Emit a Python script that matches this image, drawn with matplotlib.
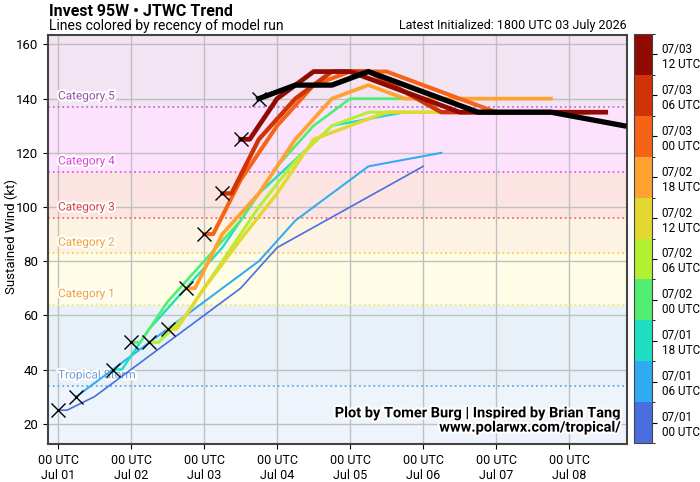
import numpy as np
import matplotlib
matplotlib.use("Agg")
import matplotlib.pyplot as plt
import matplotlib.patheffects as pe
from matplotlib.colors import ListedColormap, BoundaryNorm

plt.rcParams["font.family"] = ["Roboto", "DejaVu Sans"]

# ---- data (hours since 00 UTC Jul 01, kt) ----
run_labels = ["07/01\n00 UTC", "07/01\n06 UTC", "07/01\n18 UTC", "07/02\n00 UTC",
              "07/02\n06 UTC", "07/02\n12 UTC", "07/02\n18 UTC", "07/03\n00 UTC",
              "07/03\n06 UTC", "07/03\n12 UTC"]
run_colors = ["#4a6ee0", "#30aaf0", "#1ee0c0", "#52ee72", "#b2f032",
              "#e2d830", "#ffa232", "#f56416", "#d03406", "#900c02"]

run_hours = [
    [0, 3, 12, 24, 48, 60, 72, 120],
    [6, 18, 30, 42, 54, 66, 78, 102, 126],
    [18, 21, 30, 42, 54, 66, 90, 114],
    [24, 27, 36, 48, 60, 72, 84, 96, 120],
    [30, 33, 42, 54, 66, 78, 90, 102, 126],
    [36, 39, 48, 60, 72, 84, 96, 108, 132],
    [42, 45, 54, 66, 78, 90, 102, 114, 138, 162],
    [48, 51, 60, 72, 84, 96, 108, 144, 168],
    [54, 57, 66, 78, 90, 102, 126, 150, 174],
    [60, 63, 72, 84, 96, 108, 132, 156, 180],
]
run_winds = [
    [25, 25, 30, 40, 60, 70, 85, 115],
    [30, 40, 50, 60, 70, 80, 95, 115, 120],
    [40, 40, 55, 70, 85, 105, 130, 135],
    [50, 50, 65, 80, 95, 115, 130, 140, 140],
    [50, 50, 60, 80, 100, 117, 130, 135, 135],
    [55, 55, 70, 88, 105, 125, 130, 135, 135],
    [70, 70, 90, 105, 125, 140, 145, 140, 140, 140],
    [90, 90, 110, 130, 145, 150, 150, 135, 135],
    [105, 105, 125, 140, 150, 150, 135, 135, 135],
    [125, 125, 140, 150, 150, 145, 135, 135, 135],
]
latest_hours = [66, 78, 90, 102, 114, 138, 162, 186]
latest_winds = [140, 145, 145, 150, 145, 135, 135, 130]

cat_names = ["Tropical Storm", "Category 1", "Category 2", "Category 3", "Category 4", "Category 5"]
cat_thresh = [34, 64, 83, 96, 113, 137]
cat_fill = ["#eef4fb", "#e8f0f8", "#fffde6", "#fdf3e3", "#fbe4e2", "#fde2fd", "#f2e4f2"]
cat_line = ["#6aa8e8", "#f2ea6a", "#ffcc55", "#f07070", "#e060e0", "#c070d0"]
cat_text = ["#6aa0e0", "#f5a030", "#f5a030", "#d84040", "#e040e0", "#9a50a8"]

day_labels = ["00 UTC\nJul 01", "00 UTC\nJul 02", "00 UTC\nJul 03", "00 UTC\nJul 04",
              "00 UTC\nJul 05", "00 UTC\nJul 06", "00 UTC\nJul 07", "00 UTC\nJul 08"]

fig = plt.figure(figsize=(7, 4.82), dpi=100)
ax = fig.add_axes([48 / 700, 38 / 482, 579 / 700, 409 / 482])

ymin, ymax = 12.5, 163.5
# category background bands
edges = [ymin] + cat_thresh + [ymax]
for i in range(len(cat_fill)):
    ax.axhspan(edges[i], edges[i + 1], color=cat_fill[i], zorder=0, lw=0)
for name, th, lc, tc in zip(cat_names, cat_thresh, cat_line, cat_text):
    ax.axhline(th, color=lc, ls=":", lw=1.3, zorder=1)
    ax.text(0, th + 4, name, color=tc, fontsize=8.5, va="center", ha="left", zorder=2,
            path_effects=[pe.withStroke(linewidth=3, foreground="white")])

ax.grid(True, color="#c0c0c0", lw=1, zorder=1)
ax.set_axisbelow(True)

widths = np.linspace(1.2, 3.4, len(run_hours))
for i in range(len(run_hours)):
    ax.plot(run_hours[i], run_winds[i], color=run_colors[i], lw=widths[i], zorder=3 + i)
ax.plot(latest_hours, latest_winds, color="black", lw=3.8, zorder=20)

# initial intensity markers
init_h = [h[0] for h in run_hours] + [latest_hours[0]]
init_v = [v[0] for v in run_winds] + [latest_winds[0]]
ax.plot(init_h, init_v, ls="none", marker="x", color="black", ms=10, mew=1, zorder=25)

ax.set_xlim(-3.3, 187)
ax.set_ylim(ymin, ymax)
ax.set_xticks(np.arange(0, 169, 24))
ax.set_xticklabels(day_labels, fontsize=9)
ax.set_yticks(np.arange(20, 161, 20))
ax.tick_params(axis="y", labelsize=9.5)
for s in ax.spines.values():
    s.set_color("#444444")
    s.set_linewidth(1.5)
fig.text(11 / 700, 0.5 + 4 / 482, "Sustained Wind (kt)", fontsize=9.5, rotation=90,
         ha="center", va="center")

ax.text(0.99, 0.075, "Plot by Tomer Burg | Inspired by Brian Tang", transform=ax.transAxes,
        ha="right", va="center", fontsize=10.5, fontweight="bold", zorder=30,
        path_effects=[pe.withStroke(linewidth=3, foreground="white")])
ax.text(0.99, 0.04, "www.polarwx.com/tropical/", transform=ax.transAxes,
        ha="right", va="center", fontsize=10.5, fontweight="bold", zorder=30,
        path_effects=[pe.withStroke(linewidth=3, foreground="white")])

fig.text(49 / 700, 1 - 11 / 482, "Invest 95W \u2022 JTWC Trend", fontsize=11.5,
         fontweight="bold", ha="left", va="center")
fig.text(49 / 700, 1 - 26 / 482, "Lines colored by recency of model run", fontsize=10,
         ha="left", va="center")
fig.text(627 / 700, 1 - 25 / 482, "Latest Initialized: 1800 UTC 03 July 2026", fontsize=9,
         ha="right", va="center")

# colorbar for run recency
cax = fig.add_axes([634 / 700, 39 / 482, 18 / 700, 409 / 482])
cmap = ListedColormap(run_colors)
norm = BoundaryNorm(np.arange(len(run_colors) + 1), cmap.N)
cb = fig.colorbar(plt.cm.ScalarMappable(norm=norm, cmap=cmap), cax=cax)
cb.set_ticks(np.arange(len(run_colors)) + 0.5)
cb.set_ticklabels(run_labels)
cb.ax.tick_params(labelsize=8.5)
cb.outline.set_color("#444444")

fig.savefig("out.png", dpi=100)
